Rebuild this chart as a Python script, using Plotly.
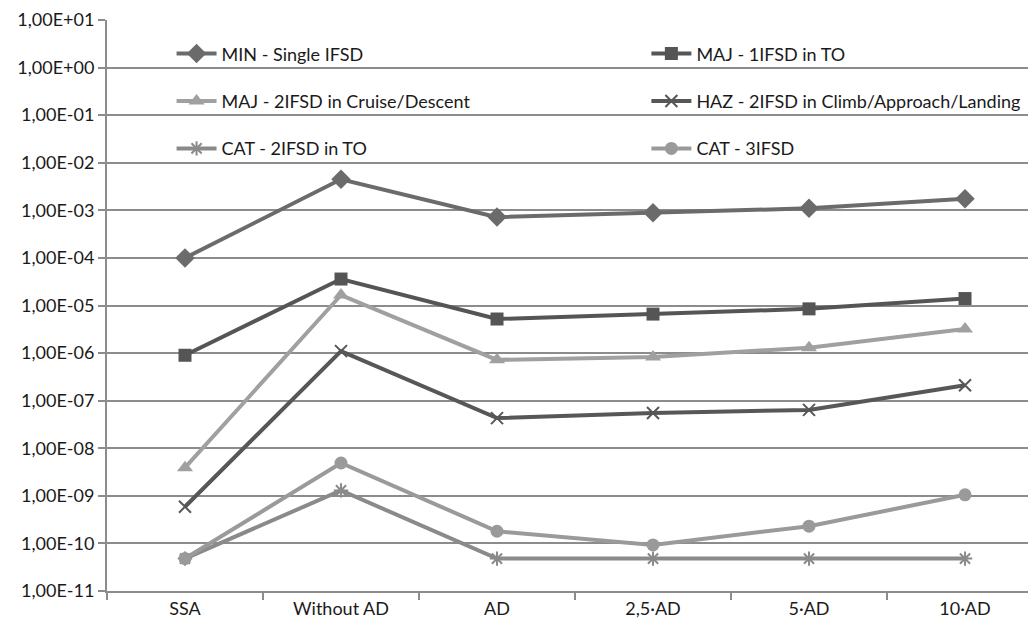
import plotly.graph_objects as go

categories = ["SSA", "Without AD", "AD", "2,5·AD", "5·AD", "10·AD"]

min_single = [1.0e-4, 4.5e-3, 7.2e-4, 8.9e-4, 1.1e-3, 1.75e-3]
maj_1ifsd_to = [9.0e-7, 3.6e-5, 5.2e-6, 6.6e-6, 8.5e-6, 1.4e-5]
maj_2ifsd_cruise = [3.9e-9, 1.66e-5, 7.2e-7, 8.3e-7, 1.3e-6, 3.2e-6]
haz_2ifsd_climb = [5.9e-10, 1.1e-6, 4.3e-8, 5.5e-8, 6.4e-8, 2.1e-7]
cat_2ifsd_to = [4.8e-11, 1.3e-9, 4.8e-11, 4.8e-11, 4.8e-11, 4.8e-11]
cat_3ifsd = [4.8e-11, 4.9e-9, 1.8e-10, 9.3e-11, 2.3e-10, 1.05e-9]

tick_vals = [1e1, 1e0, 1e-1, 1e-2, 1e-3, 1e-4, 1e-5, 1e-6, 1e-7, 1e-8, 1e-9, 1e-10, 1e-11]
tick_text = ["1,00E+01", "1,00E+00", "1,00E-01", "1,00E-02", "1,00E-03", "1,00E-04",
             "1,00E-05", "1,00E-06", "1,00E-07", "1,00E-08", "1,00E-09", "1,00E-10", "1,00E-11"]

series = [
    ("MIN - Single IFSD", min_single, "#6b6b6b", "diamond", 15, "legend"),
    ("MAJ - 2IFSD in Cruise/Descent", maj_2ifsd_cruise, "#a0a0a0", "triangle-up", 14, "legend"),
    ("CAT - 2IFSD in TO", cat_2ifsd_to, "#8a8a8a", "asterisk-open", 12, "legend"),
    ("MAJ - 1IFSD in TO", maj_1ifsd_to, "#555555", "square", 13, "legend2"),
    ("HAZ - 2IFSD in Climb/Approach/Landing", haz_2ifsd_climb, "#575757", "x-thin-open", 12, "legend2"),
    ("CAT - 3IFSD", cat_3ifsd, "#9a9a9a", "circle", 13, "legend2"),
]

fig = go.Figure()
for name, vals, color, sym, size, leg in series:
    open_sym = sym.endswith("open")
    fig.add_trace(go.Scatter(
        x=categories, y=vals, name=name, mode="lines+markers",
        line=dict(color=color, width=4),
        marker=dict(symbol=sym, size=size, color=color,
                    line=dict(color=color, width=2 if open_sym else 0)),
        legend=leg, legendgroup=name,
    ))

FONT = "Lato, Open Sans, sans-serif"
legend_common = dict(
    font=dict(family=FONT, size=18, color="#1a1a1a"),
    bgcolor="rgba(0,0,0,0)", tracegroupgap=21,
    xref="paper", yref="paper", xanchor="left", yanchor="top",
    itemwidth=40,
)

fig.update_layout(
    width=1028, height=618,
    margin=dict(l=99, r=0, t=12, b=35, autoexpand=False),
    paper_bgcolor="white", plot_bgcolor="white",
    font=dict(family=FONT, size=18, color="#1a1a1a"),
    showlegend=True,
    legend=dict(x=0.0695, y=0.973, **legend_common),
    legend2=dict(x=0.5806, y=0.973, **legend_common),
    xaxis=dict(
        type="category", range=[-0.5, 5.455],
        showgrid=False, showline=True, linecolor="#8c8c8c", linewidth=2,
        ticks="outside", tickson="boundaries", ticklen=7, tickcolor="#8c8c8c", tickwidth=2,
        tickfont=dict(size=18), fixedrange=True, automargin=False,
    ),
    yaxis=dict(
        type="log", range=[-11, 1],
        tickvals=tick_vals, ticktext=tick_text,
        showgrid=True, gridcolor="#8c8c8c", gridwidth=1.5,
        showline=True, linecolor="#8c8c8c", linewidth=2,
        ticks="outside", ticklen=7, tickcolor="#8c8c8c", tickwidth=2,
        tickfont=dict(size=18), zeroline=False, automargin=False,
    ),
)

fig.write_html("out.html")
